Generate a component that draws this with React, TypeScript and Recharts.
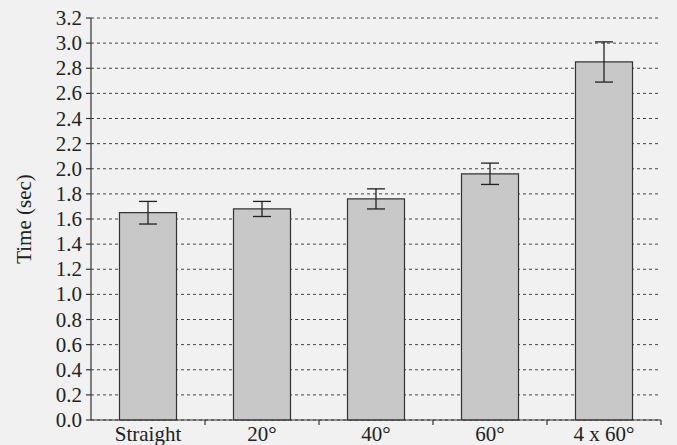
import React from 'react';
import { BarChart, Bar, XAxis, YAxis, CartesianGrid, ErrorBar } from 'recharts';

const categories = ['Straight', '20°', '40°', '60°', '4 x 60°'];
const times = [1.65, 1.68, 1.76, 1.96, 2.85];
const errors = [0.09, 0.06, 0.08, 0.085, 0.16];
const yTicks = [0, 0.2, 0.4, 0.6, 0.8, 1.0, 1.2, 1.4, 1.6, 1.8, 2.0, 2.2, 2.4, 2.6, 2.8, 3.0, 3.2];

const data = categories.map((c, i) => ({ name: c, time: times[i], err: errors[i] }));

const FONT = '"Liberation Serif", "DejaVu Serif", serif';

const XTick = (props: any) => {
  const { x, y, payload } = props;
  const half = payload && typeof payload.offset === 'number' && payload.offset > 0 ? payload.offset : 57;
  return (
    <g>
      <line x1={x + half} x2={x + half} y1={y} y2={y + 5} stroke="#333" strokeWidth={1.2} />
      <text x={x} y={y + 21} textAnchor="middle" fontFamily={FONT} fontSize={21} fill="#222">
        {payload.value}
      </text>
    </g>
  );
};

const YTick = (props: any) => {
  const { x, y, payload } = props;
  return (
    <text x={x} y={y} textAnchor="end" dominantBaseline="central" fontFamily={FONT} fontSize={21} fill="#222">
      {Number(payload.value).toFixed(1)}
    </text>
  );
};

const YLabel = (props: any) => {
  const vb = props.viewBox || { x: 0, y: 18, height: 402 };
  const cx = 24;
  const cy = vb.y + vb.height / 2;
  return (
    <text
      x={cx}
      y={cy}
      transform={`rotate(-90, ${cx}, ${cy})`}
      textAnchor="middle"
      dominantBaseline="central"
      fontFamily={FONT}
      fontSize={21}
      fill="#222"
    >
      Time (sec)
    </text>
  );
};

export default function App() {
  return (
    <div style={{ position: 'absolute', left: 0, top: 0, width: 677, height: 445, background: '#f1f1f1', overflow: 'hidden' }}>
      <BarChart
        width={677}
        height={445}
        data={data}
        margin={{ top: 18, right: 16, bottom: 0, left: 0 }}
        barCategoryGap="25%"
      >
        <CartesianGrid vertical={false} stroke="#444" strokeDasharray="3 3" strokeWidth={1} />
        <XAxis
          dataKey="name"
          height={25}
          tickSize={0}
          tickMargin={0}
          tickLine={false}
          axisLine={{ stroke: '#333', strokeWidth: 1.2 }}
          tick={<XTick />}
          interval={0}
        />
        <YAxis
          width={91}
          domain={[0, 3.2]}
          ticks={yTicks}
          interval={0}
          tickSize={5}
          tickMargin={4}
          axisLine={{ stroke: '#333', strokeWidth: 1.2 }}
          tickLine={{ stroke: '#333', strokeWidth: 1.2 }}
          tick={<YTick />}
          label={<YLabel />}
        />
        <Bar dataKey="time" fill="#c8c8c8" stroke="#333" strokeWidth={1.2} isAnimationActive={false}>
          <ErrorBar dataKey="err" width={9} stroke="#222" strokeWidth={1.3} direction="y" />
        </Bar>
      </BarChart>
    </div>
  );
}
